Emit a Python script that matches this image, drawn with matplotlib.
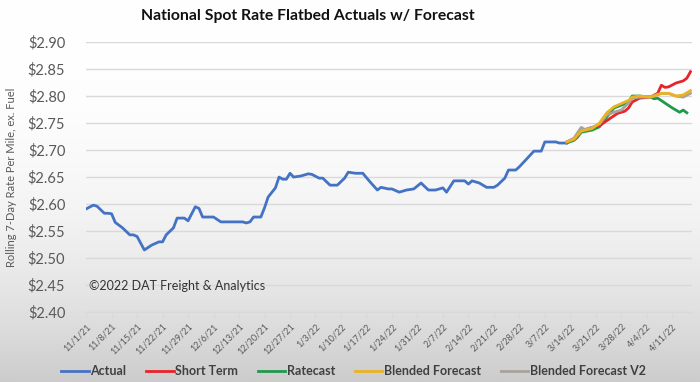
import numpy as np
import pandas as pd
import matplotlib
matplotlib.use("Agg")
import matplotlib.pyplot as plt

START = pd.Timestamp("2021-11-01")
FONT = "Lato"

# days after 11/1/21
actual_days = [0, 2, 3, 5, 6, 7, 8, 10, 12, 13, 14, 16, 18, 20, 21, 22, 24, 25, 27, 28,
               30, 31, 32, 35, 37, 43, 44, 45, 46, 48, 49, 50, 52, 53, 54, 55, 56, 57, 59,
               61, 62, 64, 65, 67, 69, 71, 72, 74, 76, 78, 80, 81, 83, 84, 86, 88, 90, 92,
               94, 96, 98, 99, 101, 104, 105, 106, 108, 110, 112, 113, 115, 116, 118, 119,
               123, 125, 126, 129, 130, 132]
actual_vals = [2.591, 2.598, 2.596, 2.583, 2.583, 2.582, 2.566, 2.556, 2.543, 2.543, 2.540,
               2.515, 2.524, 2.530, 2.530, 2.543, 2.556, 2.574, 2.574, 2.569, 2.595, 2.592,
               2.576, 2.576, 2.567, 2.567, 2.565, 2.567, 2.576, 2.576, 2.593, 2.613, 2.630,
               2.650, 2.646, 2.646, 2.657, 2.650, 2.652, 2.656, 2.655, 2.648, 2.648, 2.635,
               2.635, 2.648, 2.659, 2.657, 2.657, 2.641, 2.626, 2.631, 2.628, 2.628, 2.622,
               2.626, 2.628, 2.639, 2.626, 2.626, 2.630, 2.622, 2.643, 2.643, 2.637, 2.643,
               2.639, 2.631, 2.631, 2.635, 2.648, 2.663, 2.663, 2.669, 2.698, 2.698, 2.715,
               2.715, 2.713, 2.713]

short_days = [132, 134, 136, 138, 141, 144, 146, 148, 149, 150, 152, 155, 157, 158, 159,
              160, 162, 164, 165, 166]
short_vals = [2.715, 2.720, 2.735, 2.740, 2.745, 2.759, 2.768, 2.772, 2.778, 2.789, 2.796,
              2.798, 2.805, 2.820, 2.816, 2.817, 2.824, 2.828, 2.833, 2.845]

ratecast_days = [132, 134, 135, 136, 139, 141, 143, 145, 147, 149, 150, 152, 155, 156, 157,
                 159, 161, 163, 164, 165]
ratecast_vals = [2.713, 2.718, 2.724, 2.733, 2.737, 2.743, 2.761, 2.778, 2.783, 2.789, 2.800,
                 2.800, 2.798, 2.795, 2.796, 2.787, 2.778, 2.770, 2.774, 2.769]

blended_days = [132, 134, 136, 139, 141, 143, 145, 149, 150, 152, 155, 158, 160, 162, 164, 166]
blended_vals = [2.715, 2.720, 2.735, 2.740, 2.750, 2.769, 2.780, 2.792, 2.798, 2.800, 2.798,
                2.805, 2.805, 2.800, 2.802, 2.810]

v2_days = [132, 134, 136, 137, 139, 141, 143, 145, 147, 149, 150, 152, 155, 158, 160, 162,
           164, 166]
v2_vals = [2.715, 2.722, 2.742, 2.738, 2.742, 2.748, 2.765, 2.770, 2.774, 2.787, 2.796, 2.798,
           2.798, 2.805, 2.805, 2.800, 2.798, 2.805]

tick_dates = pd.date_range("2021-11-01", "2022-04-11", freq="7D")
y_ticks = [2.40, 2.45, 2.50, 2.55, 2.60, 2.65, 2.70, 2.75, 2.80, 2.85, 2.90]


def to_dates(days):
    return START + pd.to_timedelta(days, unit="D")


fig = plt.figure(figsize=(7.0, 3.82), dpi=100)

# faint grey wash toward the bottom, as in the screenshot
bg = fig.add_axes([0, 0, 1, 1], zorder=-10)
grad = np.linspace(0, 1, 256) ** 2.5
shade = (1.0 - 0.20 * grad)[:, None]
bg.imshow(np.dstack([shade, shade, shade]), aspect="auto", extent=[0, 1, 0, 1],
          origin="upper")
bg.set_axis_off()

ax = fig.add_axes([0.123, 0.183, 0.866, 0.707])
ax.patch.set_alpha(0)

series = [
    ("Actual", actual_days, actual_vals, "#4472C4", 5),
    ("Short Term", short_days, short_vals, "#E8232A", 4),
    ("Ratecast", ratecast_days, ratecast_vals, "#1E9A4B", 3),
    ("Blended Forecast", blended_days, blended_vals, "#E9B324", 5),
    ("Blended Forecast V2", v2_days, v2_vals, "#A8A39A", 4),
]
for name, days, vals, color, z in series:
    ax.plot(to_dates(days), vals, color=color, lw=2.0, label=name, zorder=z,
            solid_joinstyle="round")

ax.set_ylim(2.40, 2.90)
ax.set_xlim(START, START + pd.Timedelta(days=166.5))
ax.set_yticks(y_ticks)
ax.set_yticklabels([f"${v:.2f}" for v in y_ticks])
ax.set_xticks(tick_dates)
ax.set_xticklabels([f"{d.month}/{d.day}/{d.strftime('%y')}" for d in tick_dates],
                   rotation=45, ha="right", rotation_mode="anchor")

ax.grid(axis="y", color="#d9d9d9", lw=1.0, zorder=0)
for side in ["top", "right", "left"]:
    ax.spines[side].set_visible(False)
ax.spines["bottom"].set_color("#d9d9d9")
ax.tick_params(axis="y", length=0, pad=15, labelsize=10.5, labelcolor="#595959")
ax.tick_params(axis="x", length=4, color="#d9d9d9", labelsize=6.5, labelcolor="#595959",
               pad=3)
for lbl in ax.get_yticklabels() + ax.get_xticklabels():
    lbl.set_fontfamily(FONT)

ax.set_ylabel("Rolling 7-Day Rate Per Mile, ex. Fuel", fontsize=8, color="#595959",
              family=FONT, labelpad=8)

ax.text(0.005, 0.095, "\u00a92022 DAT Freight & Analytics", transform=ax.transAxes,
        fontsize=9, color="#333333", family=FONT, va="center")

fig.text(0.44, 0.958, "National Spot Rate Flatbed Actuals w/ Forecast", ha="center",
         va="center", fontsize=11.3, fontweight="bold", family=FONT, color="#111111")

leg = fig.legend(loc="center", bbox_to_anchor=(0.505, 0.028), ncol=5, frameon=False,
                 handlelength=2.2, handletextpad=0.1, columnspacing=1.6,
                 prop={"family": FONT, "size": 9, "weight": "bold"})
for t in leg.get_texts():
    t.set_color("#404040")

fig.savefig("out.png", dpi=100)
